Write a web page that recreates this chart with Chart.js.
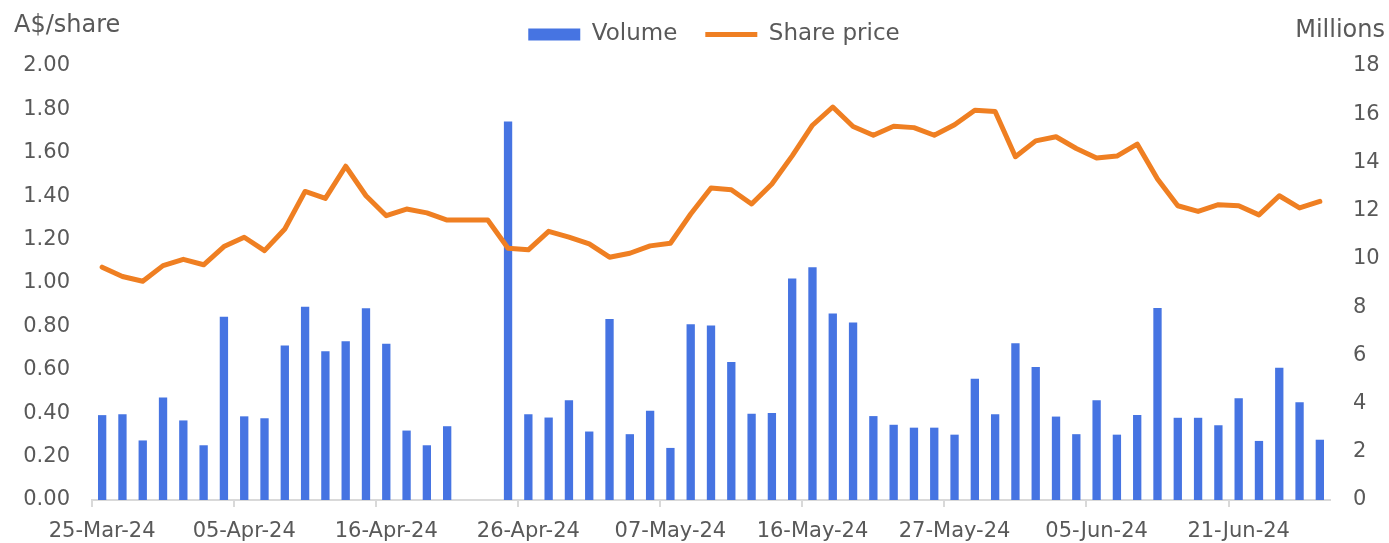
<!DOCTYPE html>
<html>
<head>
<meta charset="utf-8">
<script src="https://cdn.jsdelivr.net/npm/chart.js@4"></script>
<style>
  body { margin: 0; background: #fff; }
  #wrap { position: relative; width: 1389px; height: 543px; }
  .axis-title {
    position: absolute;
    font-family: "DejaVu Sans", sans-serif;
    font-size: 24px;
    line-height: 24px;
    color: #595959;
    white-space: nowrap;
  }
</style>
</head>
<body>
<div id="wrap">
  <canvas id="chart" width="1389" height="543"></canvas>
  <div class="axis-title" style="left:14px; top:12px;">A$/share</div>
  <div class="axis-title" style="right:4px; top:17px;">Millions</div>
</div>
<script>
// Trading days shown on the category axis (one per bar / line point)
const dates = [
  "25-Mar-24", "26-Mar-24", "27-Mar-24", "28-Mar-24", "02-Apr-24", "03-Apr-24", "04-Apr-24",
  "05-Apr-24", "08-Apr-24", "09-Apr-24", "10-Apr-24", "11-Apr-24", "12-Apr-24", "15-Apr-24",
  "16-Apr-24", "17-Apr-24", "18-Apr-24", "19-Apr-24", "22-Apr-24", "23-Apr-24", "24-Apr-24",
  "26-Apr-24", "29-Apr-24", "30-Apr-24", "01-May-24", "02-May-24", "03-May-24", "06-May-24",
  "07-May-24", "08-May-24", "09-May-24", "10-May-24", "13-May-24", "14-May-24", "15-May-24",
  "16-May-24", "17-May-24", "20-May-24", "21-May-24", "22-May-24", "23-May-24", "24-May-24",
  "27-May-24", "28-May-24", "29-May-24", "30-May-24", "31-May-24", "03-Jun-24", "04-Jun-24",
  "05-Jun-24", "06-Jun-24", "07-Jun-24", "11-Jun-24", "12-Jun-24", "13-Jun-24", "14-Jun-24",
  "21-Jun-24", "24-Jun-24", "25-Jun-24", "26-Jun-24", "27-Jun-24"
];

// Daily volume, millions of shares (right axis)
const volume = [
  3.52, 3.56, 2.47, 4.25, 3.30, 2.27, 7.60,
  3.47, 3.39, 6.41, 8.02, 6.17, 6.58, 7.95,
  6.48, 2.88, 2.27, 3.06, 0, 0, 15.70,
  3.56, 3.42, 4.14, 2.84, 7.51, 2.73, 3.70,
  2.16, 7.29, 7.24, 5.72, 3.58, 3.61, 9.19,
  9.65, 7.74, 7.36, 3.48, 3.12, 3.00, 3.00,
  2.71, 5.03, 3.56, 6.50, 5.52, 3.46, 2.73,
  4.14, 2.71, 3.53, 7.96, 3.41, 3.41, 3.10,
  4.22, 2.45, 5.49, 4.05, 2.50
];

// Closing share price, A$ (left axis)
const sharePrice = [
  1.073, 1.030, 1.008, 1.080, 1.109, 1.084, 1.168,
  1.211, 1.149, 1.249, 1.422, 1.390, 1.538, 1.402,
  1.310, 1.341, 1.323, 1.290, 1.290, 1.290, 1.160,
  1.153, 1.238, 1.211, 1.180, 1.119, 1.137, 1.171,
  1.183, 1.318, 1.438, 1.430, 1.364, 1.456, 1.586,
  1.727, 1.811, 1.721, 1.681, 1.722, 1.716, 1.681,
  1.729, 1.796, 1.790, 1.582, 1.655, 1.674, 1.620,
  1.576, 1.585, 1.640, 1.479, 1.356, 1.330, 1.361,
  1.356, 1.314, 1.402, 1.346, 1.376
];

// only every 7th trading day gets a label on the x axis
const labelEvery = 7;

const textColor = "#595959";
const fontFamily = '"DejaVu Sans", sans-serif';

// legend sits higher than its own padding allows, so pin its height
// (keeps the plot top at the 2.00 / 18 line) and nudge it a little right
const legendTweak = {
  id: "legendTweak",
  beforeLayout(chart) {
    const lg = chart.legend;
    if (lg && !lg._pinned) {
      const fit = lg.fit;
      lg.fit = function () {
        fit.call(this);
        this.height = 71;
      };
      lg._pinned = true;
    }
  },
  afterLayout(chart) {
    if (chart.legend) {
      chart.legend.left += 3;
      chart.legend.right += 3;
    }
  },
};

new Chart(document.getElementById("chart"), {
  data: {
    labels: dates,
    datasets: [
      {
        type: "bar",
        label: "Volume",
        data: volume,
        yAxisID: "y1",
        backgroundColor: "#4674E2",
        borderWidth: 0,
        categoryPercentage: 1,
        barPercentage: 0.41,
        pointStyle: "rect",
        order: 1,
      },
      {
        type: "line",
        label: "Share price",
        data: sharePrice,
        yAxisID: "y",
        borderColor: "#EF7F22",
        backgroundColor: "#EF7F22",
        borderWidth: 5,
        borderCapStyle: "round",
        borderJoinStyle: "round",
        tension: 0,
        pointRadius: 0,
        pointStyle: "line",
        order: 0,
      },
    ],
  },
  plugins: [legendTweak],
  options: {
    responsive: false,
    animation: false,
    events: [],
    layout: { padding: { top: -5, left: 0, right: 0, bottom: 0 } },
    plugins: {
      tooltip: { enabled: false },
      legend: {
        position: "top",
        fullSize: false,
        labels: {
          usePointStyle: true,
          pointStyleWidth: 52,
          boxHeight: 12,
          padding: 28,
          color: textColor,
          font: { family: fontFamily, size: 23 },
          sort: (a, b) => a.datasetIndex - b.datasetIndex,
        },
      },
    },
    scales: {
      x: {
        offset: true,
        grid: {
          offset: true,
          drawOnChartArea: false,
          drawTicks: true,
          tickLength: 7,
          lineWidth: 2,
          tickColor: (ctx) => (ctx.index % labelEvery === 0 ? "#D9D9D9" : "rgba(0,0,0,0)"),
        },
        border: { display: true, color: "#D9D9D9", width: 2 },
        ticks: {
          autoSkip: false,
          maxRotation: 0,
          padding: 12,
          color: textColor,
          font: { family: fontFamily, size: 21 },
          callback: (value, index) => (index % labelEvery === 0 ? dates[index] : ""),
        },
        afterFit: (scale) => { scale.height = 43; },
      },
      y: {
        position: "left",
        min: 0,
        max: 2,
        grid: { display: false, drawTicks: false },
        border: { display: false },
        ticks: {
          stepSize: 0.2,
          padding: 22,
          color: textColor,
          font: { family: fontFamily, size: 21 },
          callback: (v) => v.toFixed(2),
        },
        afterFit: (scale) => { scale.width = 92; },
      },
      y1: {
        position: "right",
        min: 0,
        max: 18,
        grid: { display: false, drawTicks: false },
        border: { display: false },
        ticks: {
          stepSize: 2,
          padding: 23,
          color: textColor,
          font: { family: fontFamily, size: 21 },
        },
        afterFit: (scale) => { scale.width = 59; },
      },
    },
  },
});
</script>
</body>
</html>
